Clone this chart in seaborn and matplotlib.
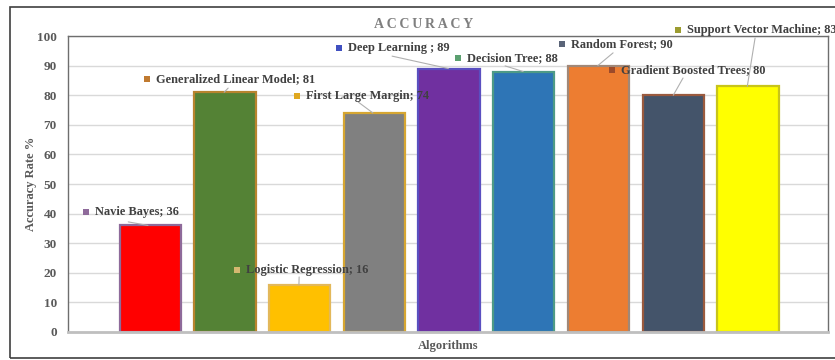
import matplotlib
matplotlib.use("Agg")
import matplotlib.pyplot as plt
import seaborn as sns
import pandas as pd
from matplotlib.patches import Rectangle

# Model accuracy values
algorithms = [
    "Navie Bayes", "Generalized Linear Model", "Logistic Regression",
    "First Large Margin", "Deep Learning ", "Decision Tree", "Random Forest",
    "Gradient Boosted Trees", "Support Vector Machine",
]
accuracy = [36, 81, 16, 74, 89, 88, 90, 80, 83]

# Styling per bar
fill_colors = ["#FF0000", "#548235", "#FFC000", "#808080", "#7030A0",
               "#2E75B6", "#ED7D31", "#44546A", "#FFFF00"]
edge_colors = ["#8E6A9A", "#B8842E", "#E3B85A", "#D6A632", "#5A4FC0",
               "#4E9A86", "#A08878", "#9A5A3E", "#C8C41A"]
marker_colors = ["#8E6A9A", "#C07A30", "#D4B870", "#E0A820", "#4050C0",
                 "#5BA070", "#5A6478", "#9C4A2A", "#9C9C30"]

# Callout placement: marker centre (x, y) and leader-line start, in data units;
# leader end is the bar top shifted horizontally by end_dx
callout_xy = [(-0.856, 40.5), (-0.040, 85.5), (1.164, 20.9), (1.967, 79.7),
              (2.528, 95.9), (4.120, 92.6), (5.512, 97.3), (6.181, 88.5),
              (7.064, 102.0)]
leader_start = [(-0.294, 37.2), (1.043, 82.4), (1.993, 18.6), (2.783, 77.7),
                (3.237, 93.2), (4.749, 89.9), (6.194, 94.3), (7.130, 85.8),
                (8.094, 99.3)]
end_dx = [-0.03, -0.01, -0.01, -0.02, -0.01, -0.01, -0.01, 0.0, -0.01]

sns.set_theme(style="white")
plt.rcParams["font.family"] = ["Liberation Serif", "DejaVu Serif"]

df = pd.DataFrame({"Algorithm": algorithms, "Accuracy": accuracy})

fig = plt.figure(figsize=(8.35, 3.6), dpi=100)
ax = fig.add_axes([68 / 835, 1 - 332 / 360, (828 - 68) / 835, (332 - 36) / 360])

sns.barplot(data=df, x="Algorithm", y="Accuracy", hue="Algorithm",
            palette=fill_colors, saturation=1, width=0.82, legend=False,
            ax=ax, zorder=2)
for patch, ec in zip(ax.patches, edge_colors):
    patch.set_edgecolor(ec)
    patch.set_linewidth(1.6)

ax.set_xlim(-1.1, 9.07)
ax.set_ylim(0, 100)
ax.set_yticks(range(0, 101, 10))
ax.set_xticks([])
ax.yaxis.grid(True, color="#D9D9D9", linewidth=1.0, zorder=0)
ax.set_axisbelow(True)
ax.tick_params(axis="y", length=0, pad=8, labelsize=9.5, labelcolor="#595959")
for lbl in ax.get_yticklabels():
    lbl.set_fontweight("bold")

for side in ("top", "right", "left"):
    ax.spines[side].set_visible(True)
    ax.spines[side].set_color("#6E6E6E")
    ax.spines[side].set_linewidth(1.0)
ax.spines["bottom"].set_color("#BFBFBF")
ax.spines["bottom"].set_linewidth(2.0)

ax.set_xlabel("Algorithms", fontsize=9, fontweight="bold", color="#595959",
              labelpad=6)
ax.set_ylabel("Accuracy Rate %", fontsize=9, fontweight="bold", color="#595959")
ax.yaxis.set_label_coords(-0.041, 0.5)

# Callouts with category name and value
for i, (name, val) in enumerate(zip(algorithms, accuracy)):
    mx, my = callout_xy[i]
    sx, sy = leader_start[i]
    ax.plot([sx, i + end_dx[i]], [sy, val], color="#B0B0B0", linewidth=0.8,
            zorder=3, clip_on=False)
    ax.scatter([mx], [my], marker="s", s=22, color=marker_colors[i],
               zorder=5, clip_on=False, linewidths=0)
    ax.annotate(f"{name}; {val}", xy=(mx, my), xytext=(6.5, 0),
                textcoords="offset points", va="center", ha="left",
                fontsize=8.9, fontweight="bold", color="#404040",
                zorder=5, annotation_clip=False)

fig.text(424 / 835, 1 - 24 / 360, "A\u2009C\u2009C\u2009U\u2009R\u2009A\u2009C\u2009Y",
         ha="center", va="center", fontsize=10, fontweight="bold",
         color="#7F7F7F")

# Chart-area border
fig.patches.append(Rectangle((10 / 835, 2 / 360), 1.2, 351 / 360,
                             transform=fig.transFigure, fill=False,
                             edgecolor="#404040", linewidth=1.2))

fig.savefig("out.png", dpi=100)
